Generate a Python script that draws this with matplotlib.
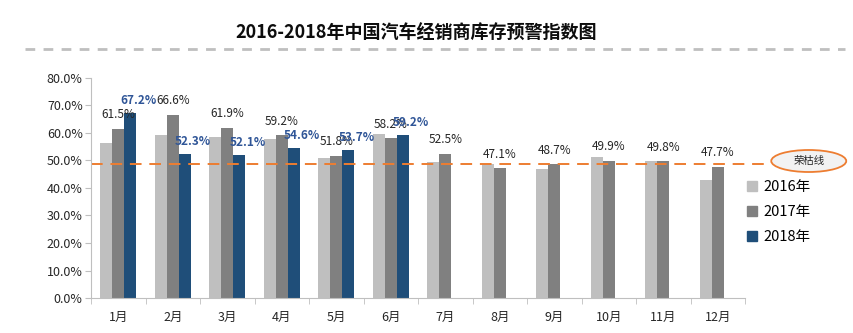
import matplotlib
matplotlib.use("Agg")
import matplotlib.pyplot as plt
import numpy as np
from matplotlib.patches import Ellipse, Patch
from matplotlib.lines import Line2D
from matplotlib.transforms import blended_transform_factory

plt.rcParams['font.family'] = ['Noto Sans CJK SC', 'DejaVu Sans']

months = ['1月', '2月', '3月', '4月', '5月', '6月', '7月', '8月', '9月', '10月', '11月', '12月']
idx_2016 = [56.5, 59.4, 58.7, 57.8, 51.0, 59.6, 49.3, 48.8, 47.0, 51.4, 49.8, 42.8]
idx_2017 = [61.5, 66.6, 61.9, 59.2, 51.8, 58.2, 52.5, 47.1, 48.7, 49.9, 49.8, 47.7]
idx_2018 = [67.2, 52.3, 52.1, 54.6, 53.7, 59.2]
boom_bust = 48.9

c16, c17, c18 = '#BFBFBF', '#808080', '#1F4E79'
blue_txt = '#2F5597'
orange = '#ED7D31'

fig = plt.figure(figsize=(8.54, 3.33), dpi=100)
ax = fig.add_axes([0.1066, 0.1051, 0.7658, 0.6607])

x = np.arange(len(months))
w = 0.22
ax.bar(x - w, idx_2016, w, color=c16)
ax.bar(x, idx_2017, w, color=c17)
ax.bar(np.arange(len(idx_2018)) + w, idx_2018, w, color=c18)

# labels: 2017 in black, 2018 in bold blue
for i, v in enumerate(idx_2017):
    ax.annotate(f'{v:.1f}%', (x[i], v), xytext=(0, 10), textcoords='offset points',
                ha='center', va='center', fontsize=8.5, color='#262626')
for i, v in enumerate(idx_2018):
    ax.annotate(f'{v:.1f}%', (x[i] + w, v), xytext=(6, 9), textcoords='offset points',
                ha='center', va='center', fontsize=8.5, color=blue_txt, fontweight='bold')

ax.set_xlim(-0.5, len(months) - 0.5)
ax.set_ylim(0, 80)
ax.set_yticks(np.arange(0, 81, 10))
ax.set_yticklabels([f'{t:.1f}%' for t in np.arange(0, 81, 10)], fontsize=9, color='#262626')
ax.set_xticks(x)
ax.set_xticklabels(months, fontsize=9, color='#262626')
ax.set_xticks(np.arange(-0.5, len(months)), minor=True)
ax.tick_params(axis='x', which='major', length=0, pad=9)
ax.tick_params(axis='x', which='minor', length=4, color='#BFBFBF')
ax.tick_params(axis='y', length=4, color='#BFBFBF', pad=2)
for s in ['top', 'right']:
    ax.spines[s].set_visible(False)
for s in ['left', 'bottom']:
    ax.spines[s].set_color('#BFBFBF')

# boom-bust line running out to the callout
trans = blended_transform_factory(fig.transFigure, ax.transData)
ax.add_line(Line2D([0.1066, 0.896], [boom_bust, boom_bust], transform=trans, color=orange,
                   lw=1.4, dashes=(6, 4), clip_on=False))
fig.patches.append(Ellipse((0.947, 1 - 161 / 333), 75 / 854, 22 / 333, transform=fig.transFigure,
                           facecolor='#F2F2F2', edgecolor=orange, lw=1.3))
fig.text(0.947, 1 - 161 / 333, '荣枯线', ha='center', va='center', fontsize=7.5, color='#262626')

handles = [Patch(color=c16), Patch(color=c17), Patch(color=c18)]
fig.legend(handles, ['2016年', '2017年', '2018年'], loc='upper left',
           bbox_to_anchor=(0.868, 1 - 174 / 333), frameon=False, fontsize=10.5,
           handlelength=0.7, handleheight=0.7, handletextpad=0.4, labelspacing=0.75,
           borderaxespad=0)

fig.text(0.487, 0.901, '2016-2018年中国汽车经销商库存预警指数图', ha='center', va='center',
         fontsize=13, fontweight='bold', color='#0D0D0D')
fig.add_artist(Line2D([25 / 854, 845 / 854], [0.853, 0.853], transform=fig.transFigure,
                      color='#BFBFBF', lw=2, dashes=(3.5, 3)))

fig.savefig('out.png', dpi=100)
